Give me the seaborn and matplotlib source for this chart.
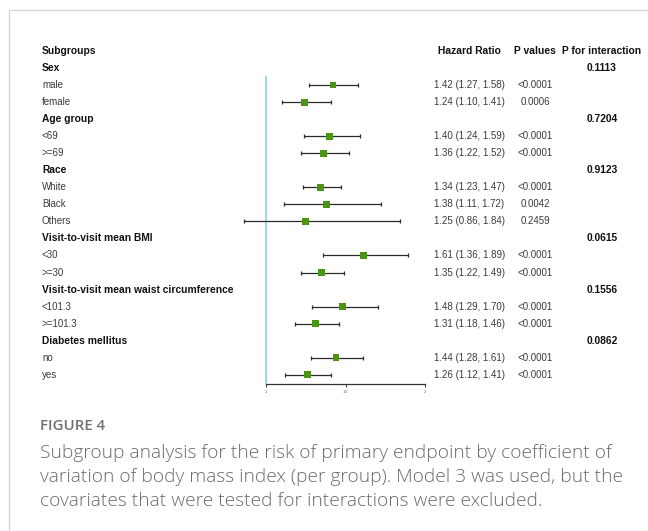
import matplotlib
matplotlib.use("Agg")
import matplotlib.pyplot as plt
import matplotlib.transforms as mtransforms
from matplotlib.lines import Line2D
import seaborn as sns
import pandas as pd

# Данные подгрупп
groups = ["Sex", "Age group", "Race", "Visit-to-visit mean BMI",
          "Visit-to-visit mean waist circumference", "Diabetes mellitus"]
p_interaction = ["0.1113", "0.7204", "0.9123", "0.0615", "0.1556", "0.0862"]
levels = [["male", "female"], ["<69", ">=69"], ["White", "Black", "Others"],
          ["<30", ">=30"], ["<101.3", ">=101.3"], ["no", "yes"]]
hr = [1.42, 1.24, 1.40, 1.36, 1.34, 1.38, 1.25, 1.61, 1.35, 1.48, 1.31, 1.44, 1.26]
ci_low = [1.27, 1.10, 1.24, 1.22, 1.23, 1.11, 0.86, 1.36, 1.22, 1.29, 1.18, 1.28, 1.12]
ci_high = [1.58, 1.41, 1.59, 1.52, 1.47, 1.72, 1.84, 1.89, 1.49, 1.70, 1.46, 1.61, 1.41]
p_values = ["<0.0001", "0.0006", "<0.0001", "<0.0001", "<0.0001", "0.0042", "0.2459",
            "<0.0001", "<0.0001", "<0.0001", "<0.0001", "<0.0001", "<0.0001"]
x_ticks = [1, 1.5, 2]

caption_title = "FIGURE 4"
caption_lines = [
    "Subgroup analysis for the risk of primary endpoint by coefficient of",
    "variation of body mass index (per group). Model 3 was used, but the",
    "covariates that were tested for interactions were excluded.",
]

# Сборка таблицы строк
rows = []
k = 0
pos = 1
for g, pint, lv in zip(groups, p_interaction, levels):
    rows.append(dict(label=g, pos=pos, header=True, pint=pint))
    pos += 1
    for name in lv:
        rows.append(dict(label=name, pos=pos, header=False, hr=hr[k], lo=ci_low[k],
                         hi=ci_high[k], p=p_values[k]))
        k += 1
        pos += 1
df = pd.DataFrame(rows)
est = df[~df.header]

sns.set_style("white")
plt.rcParams['font.family'] = ['Liberation Sans', 'DejaVu Sans']

W, H = 648, 531
fig = plt.figure(figsize=(W / 100, H / 100), dpi=100)

# Положение осей в пикселях
x1_px, px_per_unit = 266, 159.3
ax_l, ax_r = 200, 440
row0_px, row_step = 51, 17.04
ax_top, ax_bot = 40, 384
ax = fig.add_axes([ax_l / W, 1 - ax_bot / H, (ax_r - ax_l) / W, (ax_bot - ax_top) / H])
ax.set_xlim(1 + (ax_l - x1_px) / px_per_unit, 1 + (ax_r - x1_px) / px_per_unit)
ylow = (ax_bot - row0_px) / row_step
ax.set_ylim(ylow, (ax_top - row0_px) / row_step)

ax.vlines(1, ylow, 1.45, color="#8fcfdf", lw=1.2, zorder=1)
ax.errorbar(est.hr, est.pos, xerr=[est.hr - est.lo, est.hi - est.hr], fmt="none",
            ecolor="#2a2a2a", elinewidth=0.9, capsize=1.7, capthick=0.9, zorder=2)
sns.scatterplot(data=est, x="hr", y="pos", marker="s", s=24, color="#4b9414",
                edgecolor="none", ax=ax, zorder=3, legend=False)

for s in ["top", "right", "left"]:
    ax.spines[s].set_visible(False)
ax.spines["bottom"].set_bounds(1, 2)
ax.spines["bottom"].set_color("#333333")
ax.spines["bottom"].set_linewidth(0.9)
ax.set_xticks(x_ticks)
ax.set_xticklabels(["1", "1.5", "2"])
ax.tick_params(axis="x", bottom=True, length=2, width=0.7, color="#333333",
               labelsize=3, labelcolor="#666666", pad=2)
ax.set_yticks([])
ax.set_xlabel("")
ax.set_ylabel("")

# Текстовые колонки
tr = mtransforms.blended_transform_factory(fig.transFigure, ax.transData)
fs = 7.0
fsb = 7.4
tc = "#3a3a3a"
bc = "#111111"
col_label, col_hr, col_p, col_pi = 42 / W, 469.5 / W, 535 / W, 602 / W

ax.text(col_label, 0, "Subgroups", transform=tr, fontsize=fsb, fontweight="bold", va="center", color=bc)
ax.text(col_hr, 0, "Hazard Ratio", transform=tr, fontsize=fsb, fontweight="bold", va="center", ha="center", color=bc)
ax.text(col_p, 0, "P values", transform=tr, fontsize=fsb, fontweight="bold", va="center", ha="center", color=bc)
ax.text(col_pi, 0, "P for interaction", transform=tr, fontsize=fsb, fontweight="bold", va="center", ha="center", color=bc)

for _, r in df.iterrows():
    if r.header:
        ax.text(col_label, r.pos, r.label, transform=tr, fontsize=fsb, fontweight="bold", va="center", color=bc)
        ax.text(col_pi, r.pos, r.pint, transform=tr, fontsize=fsb, fontweight="bold", va="center", ha="center", color=bc)
    else:
        ax.text(col_label, r.pos, r.label, transform=tr, fontsize=fs, va="center", color=tc)
        ax.text(col_hr, r.pos, "{:.2f} ({:.2f}, {:.2f})".format(r.hr, r.lo, r.hi), transform=tr,
                fontsize=fs, va="center", ha="center", color=tc)
        ax.text(col_p, r.pos, r.p, transform=tr, fontsize=fs, va="center", ha="center", color=tc)

# Рамка страницы
fig.add_artist(Line2D([9 / W, 1], [1 - 10 / H, 1 - 10 / H], transform=fig.transFigure, color="#d4d4d4", lw=0.9))
fig.add_artist(Line2D([9 / W, 9 / W], [0, 1 - 10 / H], transform=fig.transFigure, color="#d4d4d4", lw=0.9))

# Подпись
fig.text(40 / W, 1 - 426 / H, caption_title, fontfamily="Open Sans", fontweight="semibold",
         fontsize=10.8, color="#707070", va="center")
for i, line in enumerate(caption_lines):
    fig.text(40 / W, 1 - (453 + 24 * i) / H, line, fontfamily="Open Sans", fontweight="light",
             fontsize=13.8, color="#6a6a6a", va="center")

fig.savefig("out.png", dpi=100)
